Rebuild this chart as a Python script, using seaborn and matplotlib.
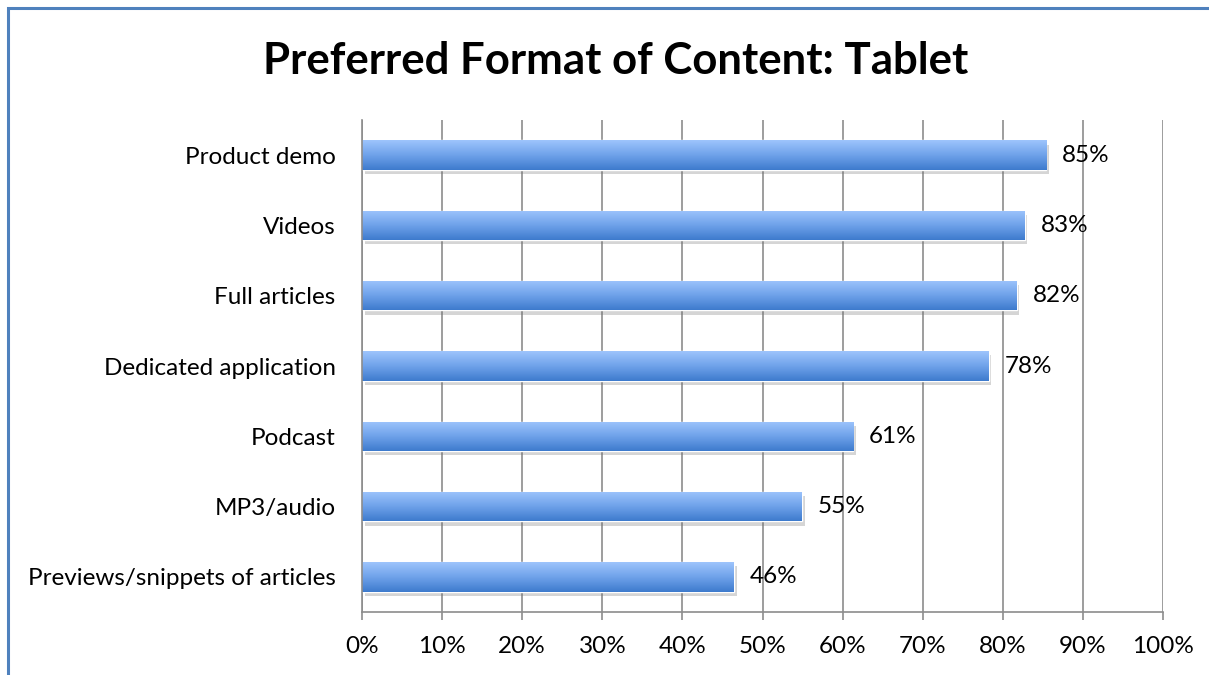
import numpy as np
import pandas as pd
import seaborn as sns
import matplotlib.pyplot as plt
import matplotlib.patheffects as pe
from matplotlib.patches import Rectangle
from matplotlib.ticker import MultipleLocator, PercentFormatter

# data (share of respondents)
formats = ["Product demo", "Videos", "Full articles", "Dedicated application",
           "Podcast", "MP3/audio", "Previews/snippets of articles"]
shares = [0.854, 0.827, 0.817, 0.782, 0.613, 0.549, 0.464]
share_labels = ["85%", "83%", "82%", "78%", "61%", "55%", "46%"]

df = pd.DataFrame({"format": formats, "share": shares})

sns.set_style("white")
plt.rcParams['font.family'] = ['Lato', 'DejaVu Sans']
plt.rcParams['text.color'] = 'black'
plt.rcParams['xtick.labelcolor'] = 'black'
plt.rcParams['ytick.labelcolor'] = 'black'

fig = plt.figure(figsize=(12.09, 6.75), dpi=100)
ax = fig.add_axes([0.2994, 0.0933, 0.6627, 0.7289])

sns.barplot(data=df, x="share", y="format", orient="h", color="#6a9de8",
            width=0.42, ax=ax, saturation=1)

# gradient fill + soft shadow on every bar
grad = np.linspace(0, 1, 64).reshape(-1, 1)
cmap = sns.blend_palette(["#9dc4fc", "#6fa2ea", "#3e7bcd"], as_cmap=True)
for p in ax.patches:
    p.set_path_effects([pe.SimplePatchShadow(offset=(2, -3), shadow_rgbFace="#777777", alpha=0.3),
                        pe.Normal()])
    x0, y0, w, h = p.get_x(), p.get_y(), p.get_width(), p.get_height()
    im = ax.imshow(grad, cmap=cmap, aspect="auto", origin="upper",
                   extent=(x0, x0 + w, y0 + h, y0), zorder=p.get_zorder() + 0.1)
    im.set_clip_path(p)

for i, (v, lab) in enumerate(zip(shares, share_labels)):
    ax.text(v + 0.02, i, lab, va="center", ha="left", fontsize=17.5, color="black")

ax.set_xlim(0, 1)
ax.set_ylim(6.5, -0.5)
ax.xaxis.set_major_locator(MultipleLocator(0.1))
ax.xaxis.set_major_formatter(PercentFormatter(1.0, decimals=0))
ax.grid(axis="x", color="#8c8c8c", linewidth=1.2)
ax.set_axisbelow(True)
ax.set_xlabel("")
ax.set_ylabel("")

for s in ["top", "right"]:
    ax.spines[s].set_visible(False)
for s in ["left", "bottom"]:
    ax.spines[s].set_color("#8c8c8c")
    ax.spines[s].set_linewidth(1.2)

ax.set_yticks(np.arange(-0.5, 7, 1), minor=True)
ax.tick_params(axis="y", which="major", length=0, pad=19, labelsize=17.5)
ax.tick_params(axis="y", which="minor", length=6, width=1.2, color="#8c8c8c", direction="out")
ax.tick_params(axis="x", which="major", length=6, width=1.2, color="#8c8c8c", direction="out",
               bottom=True, pad=11, labelsize=17.5)

fig.text(0.509, 0.91, "Preferred Format of Content: Tablet", ha="center", va="center",
         fontsize=31.5, fontweight="bold", color="black")

# outer chart frame (cut off at the right and bottom like the screenshot)
fig.patches.append(Rectangle((8 / 1209, -0.1), 1.2, 1 - 8 / 675 + 0.1, transform=fig.transFigure,
                             fill=False, edgecolor="#4f81bd", linewidth=2.2))

fig.savefig("out.png", dpi=100)
